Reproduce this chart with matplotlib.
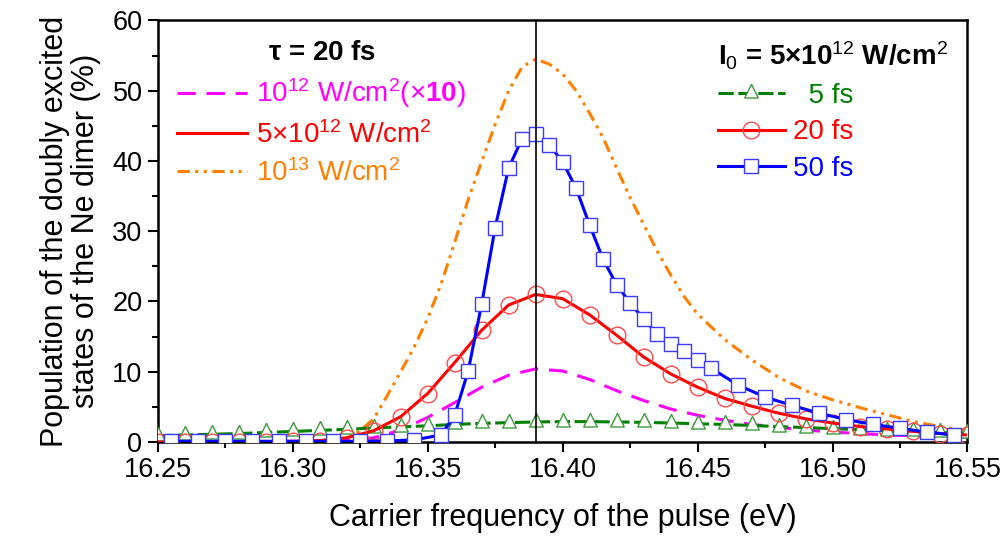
import numpy as np
import matplotlib
matplotlib.use('Agg')
import matplotlib.pyplot as plt
from matplotlib.ticker import MultipleLocator, FormatStrFormatter

plt.rcParams['font.family'] = ['Liberation Sans', 'DejaVu Sans']
plt.rcParams['mathtext.fontset'] = 'custom'
plt.rcParams['mathtext.rm'] = 'Liberation Sans'
plt.rcParams['mathtext.bf'] = 'Liberation Sans:bold'
plt.rcParams['mathtext.it'] = 'Liberation Sans:italic'

# ---- data ----
# 0.01 eV grid used by the red, green and magenta curves
x_grid = [16.25, 16.26, 16.27, 16.28, 16.29, 16.30, 16.31, 16.32, 16.33, 16.34,
          16.35, 16.36, 16.37, 16.38, 16.39, 16.40, 16.41, 16.42, 16.43, 16.44,
          16.45, 16.46, 16.47, 16.48, 16.49, 16.50, 16.51, 16.52, 16.53, 16.54, 16.55]

# tau = 20 fs, 5e12 W/cm2 (red, circles)
red_20fs = [0.0, 0.0, 0.0, 0.0, 0.05, 0.1, 0.2, 0.6, 1.6, 3.6,
            6.9, 11.3, 15.9, 19.5, 21.0, 20.4, 18.1, 15.2, 12.1, 9.7,
            7.8, 6.2, 5.1, 4.1, 3.3, 2.7, 2.2, 1.85, 1.5, 1.2, 1.0]

# I0 = 5e12, 5 fs (green, triangles)
green_5fs = [0.9, 1.0, 1.1, 1.2, 1.35, 1.5, 1.65, 1.8, 2.0, 2.15,
             2.3, 2.5, 2.65, 2.75, 2.85, 2.9, 2.9, 2.85, 2.8, 2.7,
             2.6, 2.5, 2.35, 2.2, 2.05, 1.9, 1.75, 1.6, 1.5, 1.35, 1.25]

# 1e12 W/cm2 (x10), magenta dashed
mag_1e12 = [0.0, 0.0, 0.0, 0.0, 0.0, 0.0, 0.05, 0.2, 0.6, 1.7,
            3.5, 5.6, 7.8, 9.5, 10.4, 10.1, 8.9, 7.3, 5.9, 4.7,
            3.8, 3.1, 2.5, 2.1, 1.7, 1.4, 1.2, 1.0, 0.9, 0.8, 0.7]

# 1e13 W/cm2, orange dash-dot-dot
x_orange = [16.25, 16.27, 16.29, 16.30, 16.31, 16.32, 16.325, 16.33, 16.335, 16.34,
            16.345, 16.35, 16.355, 16.36, 16.365, 16.37, 16.375, 16.38, 16.385, 16.39,
            16.395, 16.40, 16.405, 16.41, 16.415, 16.42, 16.425, 16.43, 16.435, 16.44,
            16.445, 16.45, 16.46, 16.47, 16.48, 16.49, 16.50, 16.51, 16.52, 16.53,
            16.54, 16.55]
orange_1e13 = [0.0, 0.0, 0.0, 0.0, 0.05, 0.5, 1.6, 3.3, 6.6, 10.0,
               13.5, 17.6, 22.5, 28.4, 34.5, 39.9, 45.2, 50.0, 53.4, 54.5,
               53.8, 52.4, 50.0, 46.8, 43.3, 39.0, 34.8, 31.0, 27.2, 23.8,
               20.7, 18.2, 14.6, 11.7, 9.2, 7.3, 6.0, 4.9, 3.9, 2.9,
               2.2, 1.6]

# I0 = 5e12, 50 fs (blue, squares)
x_blue = [16.255, 16.265, 16.275, 16.285, 16.295, 16.305, 16.315, 16.325, 16.335, 16.345,
          16.355, 16.36, 16.365, 16.37, 16.375, 16.38, 16.385, 16.39, 16.395, 16.40,
          16.405, 16.41, 16.415, 16.42, 16.425, 16.43, 16.435, 16.44, 16.445, 16.45,
          16.455, 16.465, 16.475, 16.485, 16.495, 16.505, 16.515, 16.525, 16.535, 16.545]
blue_50fs = [0.1, 0.1, 0.1, 0.1, 0.1, 0.1, 0.1, 0.1, 0.15, 0.3,
             1.0, 3.8, 10.1, 19.6, 30.5, 39.0, 43.2, 43.8, 42.3, 39.9,
             36.1, 30.9, 26.0, 22.4, 19.8, 17.5, 15.4, 13.9, 12.9, 11.7,
             10.5, 8.1, 6.4, 5.2, 4.1, 3.2, 2.5, 1.95, 1.4, 1.0]

resonance = 16.39

# triangle marker drawn about its centroid (as in Origin)
tri = [(0, 1.333), (-1, -0.667), (1, -0.667), (0, 1.333)]

fig = plt.figure(figsize=(10.08, 5.39), dpi=100)
ax = fig.add_axes([0.1565, 0.180, 0.8033, 0.782])

l_mag, = ax.plot(x_grid, mag_1e12, color='#ff00ff', lw=2.2, ls=(0, (6, 3.5)), zorder=3)
l_or, = ax.plot(x_orange, orange_1e13, color='#ff8000', lw=2.2,
                ls=(0, (4, 1.8, 1, 1.8, 1, 1.8)), zorder=3)
l_green, = ax.plot(x_grid, green_5fs, color='#008000', lw=2.2, ls=(0, (5, 1.5)),
                   marker=tri, ms=13, mfc='white', mec='#3c9a3c', mew=1.0, zorder=4)
l_red, = ax.plot(x_grid, red_20fs, color='#ff0000', lw=2.2, zorder=5)
m_red, = ax.plot(x_grid, red_20fs, ls='none', marker='o', ms=12, mfc='none',
                 mec='#ff4a4a', mew=1.0, zorder=5)
l_blue, = ax.plot(x_blue, blue_50fs, color='#0000ff', lw=2.2, marker='s', ms=10,
                  mfc='white', mec='#3a3aff', mew=1.0, zorder=6)
ax.axvline(resonance, color='k', lw=1.2, zorder=7)

ax.set_xlim(16.25, 16.55)
ax.set_ylim(0, 60)
ax.xaxis.set_major_locator(MultipleLocator(0.05))
ax.xaxis.set_minor_locator(MultipleLocator(0.025))
ax.yaxis.set_major_locator(MultipleLocator(10))
ax.yaxis.set_minor_locator(MultipleLocator(5))
ax.xaxis.set_major_formatter(FormatStrFormatter('%.2f'))
ax.tick_params(which='both', direction='out', width=1.5, labelsize=19.5, top=False, right=False)
ax.tick_params(which='major', length=7, pad=4)
ax.tick_params(which='minor', length=4)
for s in ax.spines.values():
    s.set_linewidth(1.8)

ax.set_xlabel('Carrier frequency of the pulse (eV)', fontsize=22, labelpad=14)
ax.set_ylabel('Population of the doubly excited\nstates of the Ne dimer (%)',
              fontsize=22, labelpad=8, linespacing=1.05)

leg1 = ax.legend([l_mag, l_red, l_or],
                 [r'10$^{12}$ W/cm$^2$(×$\mathbf{10}$)', r'5×10$^{12}$ W/cm$^2$',
                  r'10$^{13}$ W/cm$^2$'],
                 title=r'$\mathbf{\tau}$ = 20 fs', loc='upper left',
                 bbox_to_anchor=(0.0, 1.0), frameon=False, fontsize=20,
                 handlelength=2.5, handletextpad=0.35, labelspacing=0.38,
                 borderaxespad=0.3)
leg1.get_title().set_fontsize(20)
leg1.get_title().set_fontweight('bold')
for t, c in zip(leg1.get_texts(), ['#ff00ff', '#ff0000', '#ff8000']):
    t.set_color(c)
ax.add_artist(leg1)

leg2 = ax.legend([l_green, (l_red, m_red), l_blue], ['  5 fs', '20 fs', '50 fs'],
                 title=r'I$_0$ = 5×10$^{12}$ W/cm$^2$', loc='upper right',
                 bbox_to_anchor=(1.0, 1.0), frameon=False, fontsize=20, numpoints=1,
                 handlelength=2.4, handletextpad=0.3, labelspacing=0.38,
                 borderaxespad=0.3, alignment='left')
leg2.get_title().set_fontsize(20)
leg2.get_title().set_fontweight('bold')
for t, c in zip(leg2.get_texts(), ['#008000', '#ff0000', '#0000ff']):
    t.set_color(c)

fig.savefig('out.png', dpi=100)
